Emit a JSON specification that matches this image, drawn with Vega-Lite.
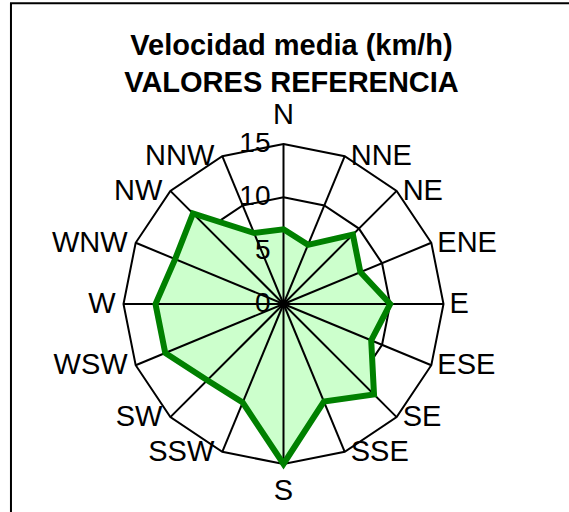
{
  "$schema": "https://vega.github.io/schema/vega-lite/v6.json",
  "width": 320,
  "height": 320,
  "autosize": {"type": "none"},
  "padding": {"left": 123.5, "top": 144, "right": 125.5, "bottom": 48},
  "background": "white",
  "config": {"view": {"stroke": null}, "font": "Liberation Sans"},
  "title": {
    "text": ["Velocidad media (km/h)", "VALORES REFERENCIA"],
    "font": "Liberation Sans",
    "fontSize": 29,
    "fontWeight": "bold",
    "color": "black",
    "anchor": "middle",
    "baseline": "alphabetic",
    "lineHeight": 37,
    "dx": 8,
    "dy": 119,
    "offset": 0
  },
  "datasets": {
    "wind": [
      {"dir": "N", "v": 7.0},
      {"dir": "NNE", "v": 6.0},
      {"dir": "NE", "v": 9.2},
      {"dir": "ENE", "v": 7.8},
      {"dir": "E", "v": 10.0},
      {"dir": "ESE", "v": 8.9},
      {"dir": "SE", "v": 12.0},
      {"dir": "SSE", "v": 9.9},
      {"dir": "S", "v": 15.0},
      {"dir": "SSW", "v": 10.0},
      {"dir": "SW", "v": 10.1},
      {"dir": "WSW", "v": 12.0},
      {"dir": "W", "v": 12.0},
      {"dir": "WNW", "v": 11.0},
      {"dir": "NW", "v": 12.0},
      {"dir": "NNW", "v": 7.2}
    ],
    "ticks": [{"t": 0}, {"t": 5}, {"t": 10}, {"t": 15}],
    "frame": [{"x1": -25.55, "x2": 30, "y1": -22, "y2": 28.2}]
  },
  "data": {"name": "wind"},
  "transform": [
    {"calculate": "indexof(['N','NNE','NE','ENE','E','ESE','SE','SSE','S','SSW','SW','WSW','W','WNW','NW','NNW'], datum.dir)", "as": "i"},
    {"calculate": "datum.i*PI/8", "as": "a"},
    {"calculate": "datum.v*sin(datum.a)", "as": "x"},
    {"calculate": "datum.v*cos(datum.a)", "as": "y"},
    {"calculate": "15*sin(datum.a)", "as": "ox"},
    {"calculate": "15*cos(datum.a)", "as": "oy"}
  ],
  "layer": [
    {
      "transform": [
        {"calculate": "[5,10,15]", "as": "lv"},
        {"flatten": ["lv"]},
        {"calculate": "datum.lv*sin(datum.a)", "as": "gx"},
        {"calculate": "datum.lv*cos(datum.a)", "as": "gy"}
      ],
      "mark": {"type": "line", "interpolate": "linear-closed", "color": "black", "strokeWidth": 2},
      "encoding": {
        "x": {"field": "gx", "type": "quantitative", "scale": {"domain": [-15, 15], "nice": false, "zero": false}, "axis": null},
        "y": {"field": "gy", "type": "quantitative", "scale": {"domain": [-15, 15], "nice": false, "zero": false}, "axis": null},
        "detail": {"field": "lv"},
        "order": {"field": "i", "type": "quantitative"}
      }
    },
    {
      "mark": {"type": "line", "interpolate": "linear-closed", "fill": "#ccffcc", "strokeWidth": 0, "strokeOpacity": 0},
      "encoding": {
        "x": {"field": "x", "type": "quantitative"},
        "y": {"field": "y", "type": "quantitative"},
        "order": {"field": "i", "type": "quantitative"}
      }
    },
    {
      "mark": {"type": "rule", "color": "black", "strokeWidth": 2},
      "encoding": {
        "x": {"field": "ox", "type": "quantitative"},
        "y": {"field": "oy", "type": "quantitative"},
        "x2": {"datum": 0},
        "y2": {"datum": 0}
      }
    },
    {
      "mark": {"type": "line", "interpolate": "linear-closed", "color": "#008000", "strokeWidth": 6, "strokeJoin": "miter"},
      "encoding": {
        "x": {"field": "x", "type": "quantitative"},
        "y": {"field": "y", "type": "quantitative"},
        "order": {"field": "i", "type": "quantitative"}
      }
    },
    {
      "transform": [{"filter": "datum.i > 0 && datum.i < 8"}],
      "mark": {"type": "text", "align": "left", "baseline": "middle", "dx": 6, "fontSize": 29, "color": "black", "font": "Liberation Sans"},
      "encoding": {
        "x": {"field": "ox", "type": "quantitative"},
        "y": {"field": "oy", "type": "quantitative"},
        "text": {"field": "dir"}
      }
    },
    {
      "transform": [{"filter": "datum.i > 8"}],
      "mark": {"type": "text", "align": "right", "baseline": "middle", "dx": -8, "fontSize": 29, "color": "black", "font": "Liberation Sans"},
      "encoding": {
        "x": {"field": "ox", "type": "quantitative"},
        "y": {"field": "oy", "type": "quantitative"},
        "text": {"field": "dir"}
      }
    },
    {
      "transform": [{"filter": "datum.i == 0"}],
      "mark": {"type": "text", "align": "center", "baseline": "alphabetic", "dy": -20, "fontSize": 29, "color": "black", "font": "Liberation Sans"},
      "encoding": {
        "x": {"field": "ox", "type": "quantitative"},
        "y": {"field": "oy", "type": "quantitative"},
        "text": {"field": "dir"}
      }
    },
    {
      "transform": [{"filter": "datum.i == 8"}],
      "mark": {"type": "text", "align": "center", "baseline": "alphabetic", "dy": 36, "fontSize": 29, "color": "black", "font": "Liberation Sans"},
      "encoding": {
        "x": {"field": "ox", "type": "quantitative"},
        "y": {"field": "oy", "type": "quantitative"},
        "text": {"field": "dir"}
      }
    },
    {
      "data": {"name": "ticks"},
      "transform": [],
      "mark": {"type": "text", "align": "right", "baseline": "middle", "dx": -13, "fontSize": 28, "color": "black", "font": "Liberation Sans"},
      "encoding": {
        "x": {"datum": 0},
        "y": {"field": "t", "type": "quantitative"},
        "text": {"field": "t", "type": "quantitative"}
      }
    },
    {
      "data": {"name": "frame"},
      "transform": [],
      "mark": {"type": "rect", "fill": "transparent", "stroke": "black", "strokeWidth": 2},
      "encoding": {
        "x": {"field": "x1", "type": "quantitative"},
        "x2": {"field": "x2"},
        "y": {"field": "y1", "type": "quantitative"},
        "y2": {"field": "y2"}
      }
    }
  ]
}
